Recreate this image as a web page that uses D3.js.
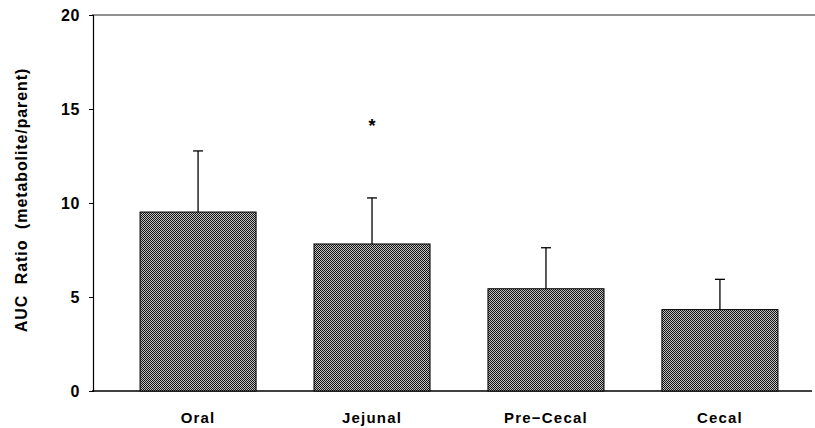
<!DOCTYPE html>
<html><head><meta charset="utf-8">
<script src="https://cdn.jsdelivr.net/npm/d3@7"></script>
<style>body{margin:0;background:#fff}svg{display:block}</style>
</head><body>
<script>
const categories = ["Oral", "Jejunal", "Pre-Cecal", "Cecal"];
const values = [9.52, 7.82, 5.44, 4.33];
const errors = [3.25, 2.45, 2.18, 1.61];
const significant = [false, true, false, false];
const yTicks = [0, 5, 10, 15, 20];
const yLabel = "AUC  Ratio  (metabolite/parent)";

const W = 815, H = 428;
const svg = d3.select("body").append("svg").attr("width", W).attr("height", H);

const defs = svg.append("defs");
const pat = defs.append("pattern").attr("id", "checker").attr("patternUnits", "userSpaceOnUse")
  .attr("width", 2).attr("height", 2);
pat.append("rect").attr("width", 2).attr("height", 2).attr("fill", "#c4c4c4");
pat.append("rect").attr("x", 0).attr("y", 0).attr("width", 1).attr("height", 1).attr("fill", "#111");
pat.append("rect").attr("x", 1).attr("y", 1).attr("width", 1).attr("height", 1).attr("fill", "#111");

const x = d3.scaleBand().domain(categories).range([111, 807]).paddingInner(0.333).paddingOuter(0.167);
const y = d3.scaleLinear().domain([0, 20]).range([391, 15]);
const axisX = 93;
const font = "Liberation Sans, Arial, sans-serif";

// frame lines
svg.append("line").attr("x1", axisX - 1).attr("x2", 815).attr("y1", y(20)).attr("y2", y(20))
  .attr("stroke", "#222").attr("stroke-width", 1.2);
svg.append("line").attr("x1", axisX - 1).attr("x2", 812).attr("y1", y(0)).attr("y2", y(0))
  .attr("stroke", "#000").attr("stroke-width", 1.5);

// y axis
const yAxis = svg.append("g").attr("transform", `translate(${axisX},0)`)
  .call(d3.axisLeft(y).tickValues(yTicks).tickSize(4).tickPadding(9).tickFormat(d3.format("d")));
yAxis.select(".domain").attr("stroke", "#000").attr("stroke-width", 1.2);
yAxis.selectAll("text").attr("font-family", font)
  .attr("font-weight", "bold").attr("font-size", 16).attr("letter-spacing", 0.6).attr("fill", "#000");
yAxis.selectAll(".tick line").attr("stroke", "#000");

// y title
svg.append("text").attr("transform", `translate(27,200) rotate(-90)`)
  .attr("text-anchor", "middle").attr("font-family", font)
  .attr("font-weight", "bold").attr("font-size", 16).attr("letter-spacing", 0.9)
  .style("white-space", "pre").text(yLabel);

// bars
const data = categories.map((c, i) => ({c, v: values[i], e: errors[i], s: significant[i]}));
svg.append("g").selectAll("rect").data(data).join("rect")
  .attr("x", d => x(d.c)).attr("width", x.bandwidth())
  .attr("y", d => y(d.v)).attr("height", d => y(0) - y(d.v))
  .attr("fill", "url(#checker)").attr("stroke", "#000").attr("stroke-width", 1);

// error bars
const eb = svg.append("g").attr("stroke", "#000").attr("stroke-width", 1.3);
eb.selectAll("line.v").data(data).join("line").attr("class", "v")
  .attr("x1", d => x(d.c) + x.bandwidth() / 2).attr("x2", d => x(d.c) + x.bandwidth() / 2)
  .attr("y1", d => y(d.v)).attr("y2", d => y(d.v + d.e));
eb.selectAll("line.h").data(data).join("line").attr("class", "h")
  .attr("x1", d => x(d.c) + x.bandwidth() / 2 - 5).attr("x2", d => x(d.c) + x.bandwidth() / 2 + 5)
  .attr("y1", d => y(d.v + d.e)).attr("y2", d => y(d.v + d.e));

// significance
svg.append("g").selectAll("text").data(data.filter(d => d.s)).join("text")
  .attr("x", d => x(d.c) + x.bandwidth() / 2).attr("y", d => y(d.v + d.e) - 66)
  .attr("text-anchor", "middle").attr("font-family", font)
  .attr("font-weight", "bold").attr("font-size", 18).text("*");

// x labels
svg.append("g").selectAll("text").data(categories).join("text")
  .attr("x", d => x(d) + x.bandwidth() / 2).attr("y", 423)
  .attr("text-anchor", "middle").attr("font-family", font)
  .attr("font-weight", "bold").attr("font-size", 15).attr("letter-spacing", 1.2)
  .text(d => d === "Pre-Cecal" ? "Pre\u2212Cecal" : d);
</script>
</body></html>
